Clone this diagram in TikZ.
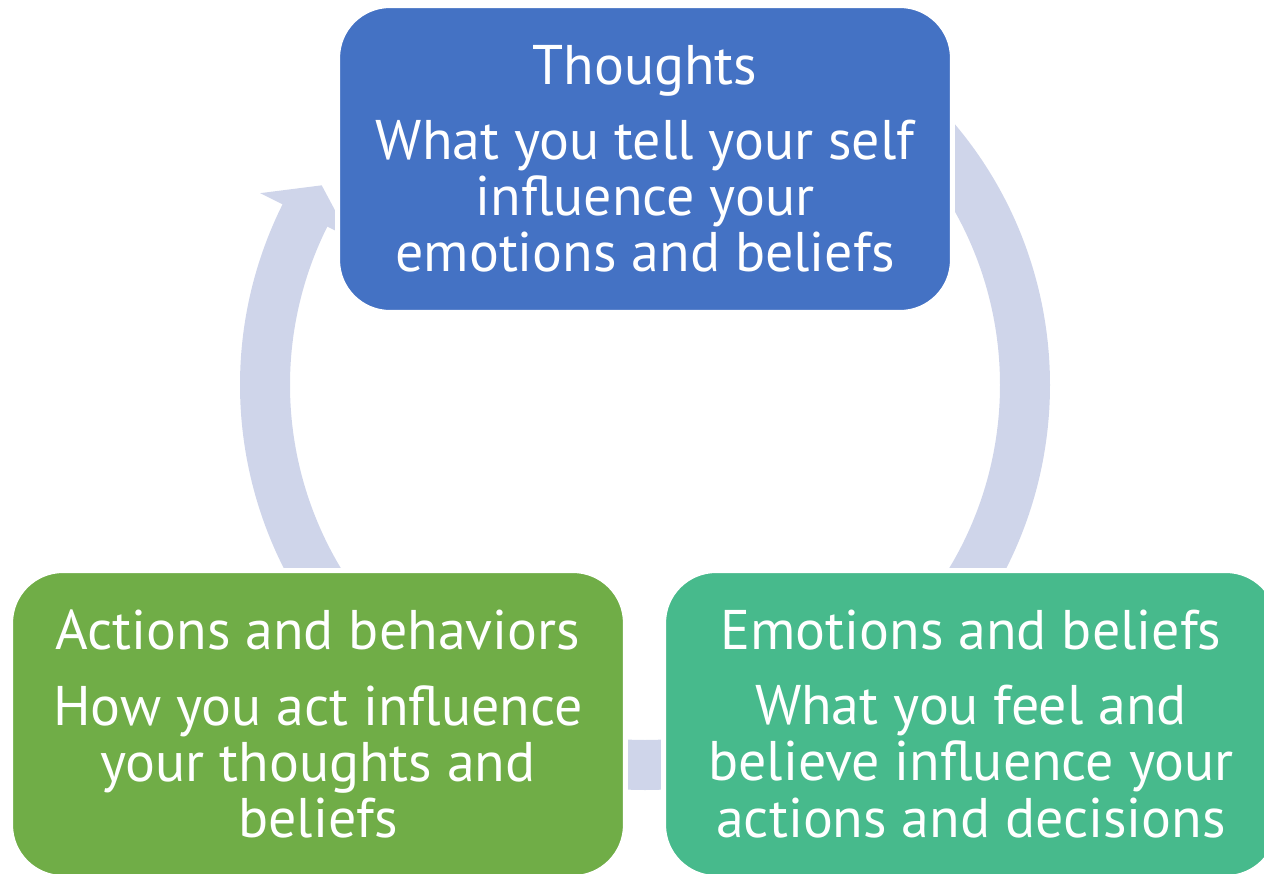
\documentclass[tikz,border=0pt]{standalone}
\usepackage{fontspec}
\setmainfont{PT Sans}
\usetikzlibrary{positioning}

\definecolor{thoughtblue}{HTML}{4472C4}
\definecolor{actiongreen}{HTML}{70AD47}
\definecolor{emotiongreen}{HTML}{47BA8C}
\definecolor{arrowblue}{HTML}{CFD5EA}

\begin{document}
\begin{tikzpicture}[
    x=0.02cm, y=0.02cm,
    cyclebox/.style={rounded corners=1.05cm, draw=white, line width=0.1cm,
        minimum width=12.3cm, minimum height=6.14cm, align=center,
        text=white, inner sep=0pt, font=\fontsize{31.8}{31.9}\selectfont},
    cyclearrow/.style={fill=arrowblue, draw=none}
    ]

    % Determines the boundries
    \path [use as bounding box] (-645,-488) rectangle (619,385);

    \def\rin{355}
    \def\rout{405}
    \def\gap{0.38cm}

    % Arrows of the cycle, the boxes cover their ends
    \fill[cyclearrow] (45:\rout) arc[start angle=45, end angle=-45, radius=\rout]
        -- (-45:\rin) arc[start angle=-45, end angle=45, radius=\rin] -- cycle;
    \fill[cyclearrow] (-60:\rout) arc[start angle=-60, end angle=-120, radius=\rout]
        -- (-120:\rin) arc[start angle=-120, end angle=-60, radius=\rin] -- cycle;
    \fill[cyclearrow] (230:\rout) arc[start angle=230, end angle=153.5, radius=\rout]
        -- (153.5:430) -- (148.3:380) -- (153.5:330)
        -- (153.5:\rin) arc[start angle=153.5, end angle=230, radius=\rin] -- cycle;

    % The three boxes
    \node (thoughts) [cyclebox, fill=thoughtblue] at (0,226)
        {Thoughts\\[\gap]What you tell your self\\influence your\\emotions and beliefs};
    \node (actions) [cyclebox, fill=actiongreen] at (-327,-339)
        {Actions and behaviors\\[\gap]How you act influence\\your thoughts and\\beliefs};
    \node (emotions) [cyclebox, fill=emotiongreen] at (326,-339)
        {Emotions and beliefs\\[\gap]What you feel and\\believe influence your\\actions and decisions};

\end{tikzpicture}
\end{document}
